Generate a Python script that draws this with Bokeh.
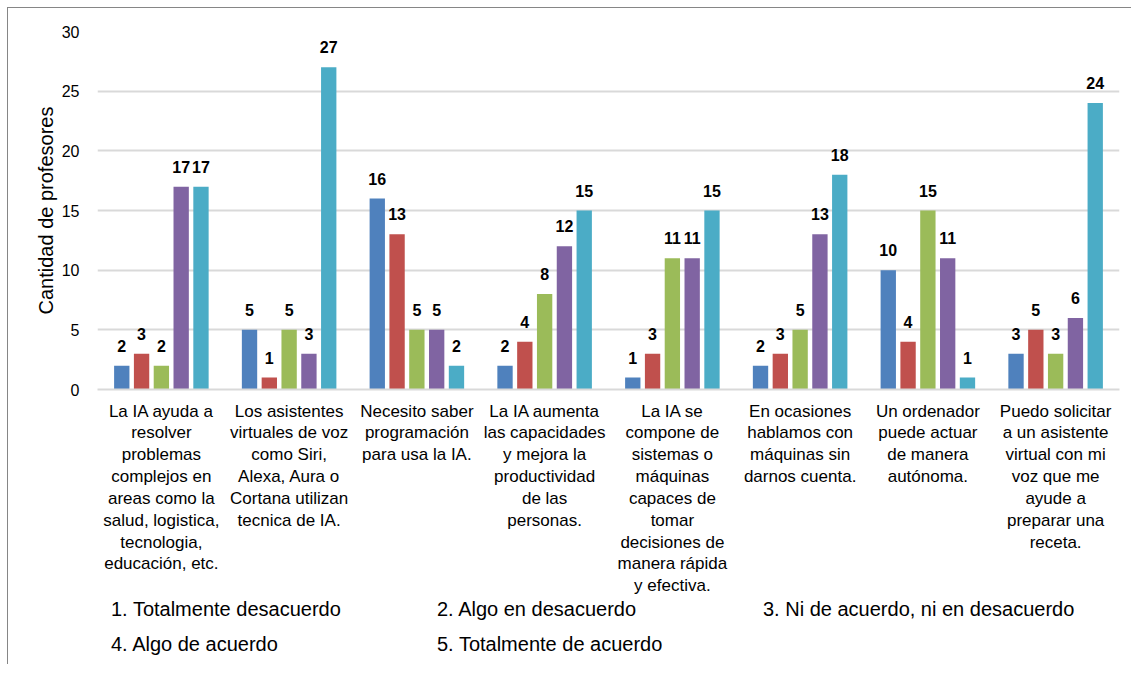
from bokeh.plotting import figure
from bokeh.layouts import column
from bokeh.models import FactorRange, Legend, LegendItem, ColumnDataSource, Range1d, FixedTicker
from bokeh.transform import dodge
from bokeh.core.properties import value
from bokeh.embed import file_html
from bokeh.resources import INLINE

categories = [
    "La IA ayuda a\nresolver\nproblemas\ncomplejos en\nareas como la\nsalud, logistica,\ntecnologia,\neducación, etc.",
    "Los asistentes\nvirtuales de voz\ncomo Siri,\nAlexa, Aura o\nCortana utilizan\ntecnica de IA.",
    "Necesito saber\nprogramación\npara usa la IA.",
    "La IA aumenta\nlas capacidades\ny mejora la\nproductividad\nde las\npersonas.",
    "La IA se\ncompone de\nsistemas o\nmáquinas\ncapaces de\ntomar\ndecisiones de\nmanera rápida\ny efectiva.",
    "En ocasiones\nhablamos con\nmáquinas sin\ndarnos cuenta.",
    "Un ordenador\npuede actuar\nde manera\nautónoma.",
    "Puedo solicitar\na un asistente\nvirtual con mi\nvoz que me\nayude a\npreparar una\nreceta.",
]

series_names = [
    "1. Totalmente desacuerdo",
    "2. Algo en desacuerdo",
    "3. Ni de acuerdo, ni en desacuerdo",
    "4. Algo de acuerdo",
    "5. Totalmente de acuerdo",
]

totalmente_desacuerdo = [2, 5, 16, 2, 1, 2, 10, 3]
algo_desacuerdo = [3, 1, 13, 4, 3, 3, 4, 5]
ni_acuerdo_ni_desacuerdo = [2, 5, 5, 8, 11, 5, 15, 3]
algo_acuerdo = [17, 3, 5, 12, 11, 13, 11, 6]
totalmente_acuerdo = [17, 27, 2, 15, 15, 18, 1, 24]

y_ticks = [0, 5, 10, 15, 20, 25, 30]

series_values = [totalmente_desacuerdo, algo_desacuerdo, ni_acuerdo_ni_desacuerdo,
                 algo_acuerdo, totalmente_acuerdo]
colors = ["#4F81BD", "#C0504D", "#9BBB59", "#8064A2", "#4BACC6"]
offsets = [-0.31, -0.155, 0.0, 0.155, 0.31]
bar_width = 0.12

FONT = "Liberation Sans"

# ---------------- main chart ----------------
p = figure(
    x_range=FactorRange(*categories, range_padding=0),
    y_range=Range1d(0, 30),
    frame_width=1022, frame_height=358,
    output_backend="svg", toolbar_location=None,
    min_border_left=89, min_border_right=12, min_border_top=23, min_border_bottom=0,
)
p.outline_line_color = None
p.background_fill_color = "white"
p.border_fill_color = "white"

src = ColumnDataSource(dict(
    cat=categories,
    **{f"s{i}": vals for i, vals in enumerate(series_values)},
    **{f"t{i}": [str(v) for v in vals] for i, vals in enumerate(series_values)},
))

for i in range(5):
    p.vbar(x=dodge("cat", offsets[i], range=p.x_range), top=f"s{i}", width=bar_width,
           source=src, fill_color=colors[i], line_color=None)
    p.text(x=dodge("cat", offsets[i], range=p.x_range), y=f"s{i}", text=f"t{i}", source=src,
           text_font=value(FONT), text_font_size="16px", text_font_style="bold",
           text_align="center", text_baseline="middle", y_offset=-20, text_color="#000000")

p.yaxis.ticker = FixedTicker(ticks=y_ticks)
p.yaxis.axis_line_color = None
p.yaxis.major_tick_line_color = None
p.yaxis.minor_tick_line_color = None
p.yaxis.major_label_text_font = FONT
p.yaxis.major_label_text_font_size = "16px"
p.yaxis.major_label_text_color = "#000000"
p.yaxis.major_label_standoff = 12
p.yaxis.axis_label = "Cantidad de profesores"
p.yaxis.axis_label_text_font = FONT
p.yaxis.axis_label_text_font_size = "20px"
p.yaxis.axis_label_text_font_style = "normal"
p.yaxis.axis_label_text_color = "#000000"
p.yaxis.axis_label_standoff = 2

p.xaxis.axis_line_color = "#D9D9D9"
p.xaxis.axis_line_width = 2
p.xaxis.major_tick_line_color = None
p.xaxis.minor_tick_line_color = None
p.xaxis.major_label_text_font = FONT
p.xaxis.major_label_text_font_size = "17px"
p.xaxis.major_label_text_color = "#000000"
p.xaxis.major_label_text_line_height = 1.15
p.xaxis.major_label_standoff = 6

p.xgrid.grid_line_color = None
p.ygrid.grid_line_color = "#D9D9D9"
p.ygrid.grid_line_width = 2

# ---------------- legend strip ----------------
lg = figure(
    x_range=Range1d(0, 1), y_range=Range1d(0, 1),
    frame_width=1034, frame_height=66,
    output_backend="svg", toolbar_location=None,
    min_border_left=77, min_border_right=12, min_border_top=0, min_border_bottom=0,
)
lg.axis.visible = False
lg.grid.grid_line_color = None
lg.outline_line_color = None
lg.background_fill_color = "white"
lg.border_fill_color = "white"

legend_renderers = []
for i in range(5):
    r = lg.vbar(x=[], top=[], width=0.1, fill_color=colors[i], line_color=None)
    legend_renderers.append(r)

order = [0, 3, 1, 4, 2]
legend = Legend(
    items=[LegendItem(label=series_names[i], renderers=[legend_renderers[i]]) for i in order],
    ncols=3, location="top_left",
    label_text_font=FONT, label_text_font_size="20px", label_text_color="#000000",
    glyph_width=10, glyph_height=10, label_standoff=4, label_width=300,
    spacing=12, padding=0, margin=0, border_line_color=None, background_fill_alpha=0,
)
lg.add_layout(legend, "center")

layout = column(p, lg, spacing=0,
                styles={"border-left": "1px solid #868686", "border-top": "1px solid #868686",
                        "margin-left": "7px", "margin-top": "7px"})

open("out.html", "w").write(file_html(layout, INLINE))
